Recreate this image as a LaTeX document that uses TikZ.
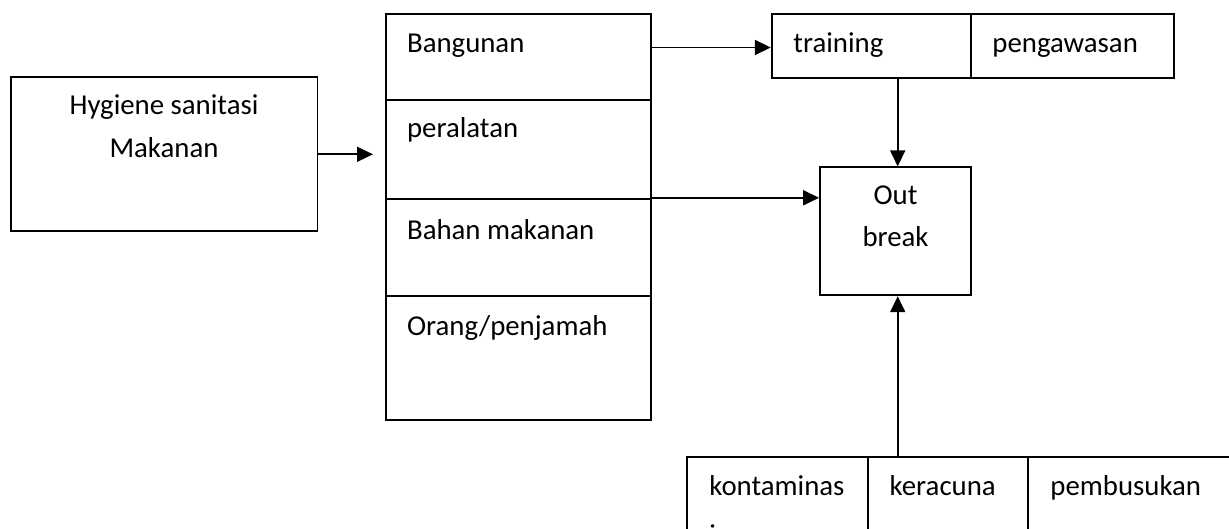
\documentclass[tikz,border=0pt]{standalone}
\usepackage{fontspec}
\setmainfont{Carlito}
\usetikzlibrary{arrows.meta,fit}
\begin{document}
\begin{tikzpicture}[x=0.5pt,y=-0.5pt,
  box/.style={draw=black, line width=0.9pt, inner sep=0pt, rectangle},
  lbl/.style={inner sep=0pt, anchor=base west, font=\fontsize{14.4}{17}\selectfont, text=black},
  clbl/.style={lbl, anchor=base},
  arr/.style={draw=black, line width=0.9pt, -{Triangle[length=8pt,width=7.5pt]}}]
\useasboundingbox (0,0) rectangle (1229,529);
\clip (0,0) rectangle (1229,529);
\fill[white] (0,0) rectangle (1229,529);
% left box
\node[box, fit={(10.7,77.3) (317.5,231.3)}] (hyg) {};
\node[clbl] (hygA) at (164,115) {Hygiene sanitasi};
\node[clbl] (hygB) at (164,158) {Makanan};
% middle column
\node[box, fit={(386,14) (651,100)}] (c1) {};
\node[box, fit={(386,100) (651,198.7)}] (c2) {};
\node[box, fit={(386,198.7) (651,296)}] (c3) {};
\node[box, fit={(386,296) (651,420)}] (c4) {};
\node[lbl] (t1) at (406.7,53) {Bangunan};
\node[lbl] (t2) at (406.7,138) {peralatan};
\node[lbl] (t3) at (406.7,239) {Bahan makanan};
\node[lbl] (t4) at (406.7,335) {Orang/penjamah};
% top right boxes
\node[box, fit={(771.7,14) (971,77.7)}] (train) {};
\node[box, fit={(971,14) (1173.7,77.7)}] (peng) {};
\node[lbl] (trainT) at (793,53) {training};
\node[lbl] (pengT) at (992,53) {pengawasan};
% outbreak
\node[box, fit={(820,167.3) (971.3,295.3)}] (out) {};
\node[clbl] (outA) at (895.5,205) {Out};
\node[clbl] (outB) at (895.5,246.7) {break};
% bottom boxes
\node[box, fit={(687.3,457.3) (868.3,580)}] (kont) {};
\node[box, fit={(868.3,457.3) (1028.3,580)}] (kera) {};
\node[box, fit={(1028.3,457.3) (1270,580)}] (pemb) {};
\node[lbl] (kontT) at (709,495.7) {kontaminas};
\node[lbl] (kontT2) at (709,544) {i};
\node[lbl] (keraT) at (889.3,495.7) {keracuna};
\node[lbl] (keraT2) at (889.3,544) {n};
\node[lbl] (pembT) at (1050,495.7) {pembusukan};
% connectors
\coordinate (hygEnd) at (373,154.3);
\draw[arr] (hyg.east) -- (hygEnd);
\coordinate (bangStart) at (651,47.5);
\draw[arr] (bangStart) -- (bangStart -| train.west);
\draw[arr] (c3.north east) -- (c3.north east -| out.west);
\coordinate (vx) at (897.7,0);
\draw[arr] (vx |- train.south) -- (vx |- out.north);
\draw[arr] (vx |- kera.north) -- (vx |- out.south);
\end{tikzpicture}
\end{document}
